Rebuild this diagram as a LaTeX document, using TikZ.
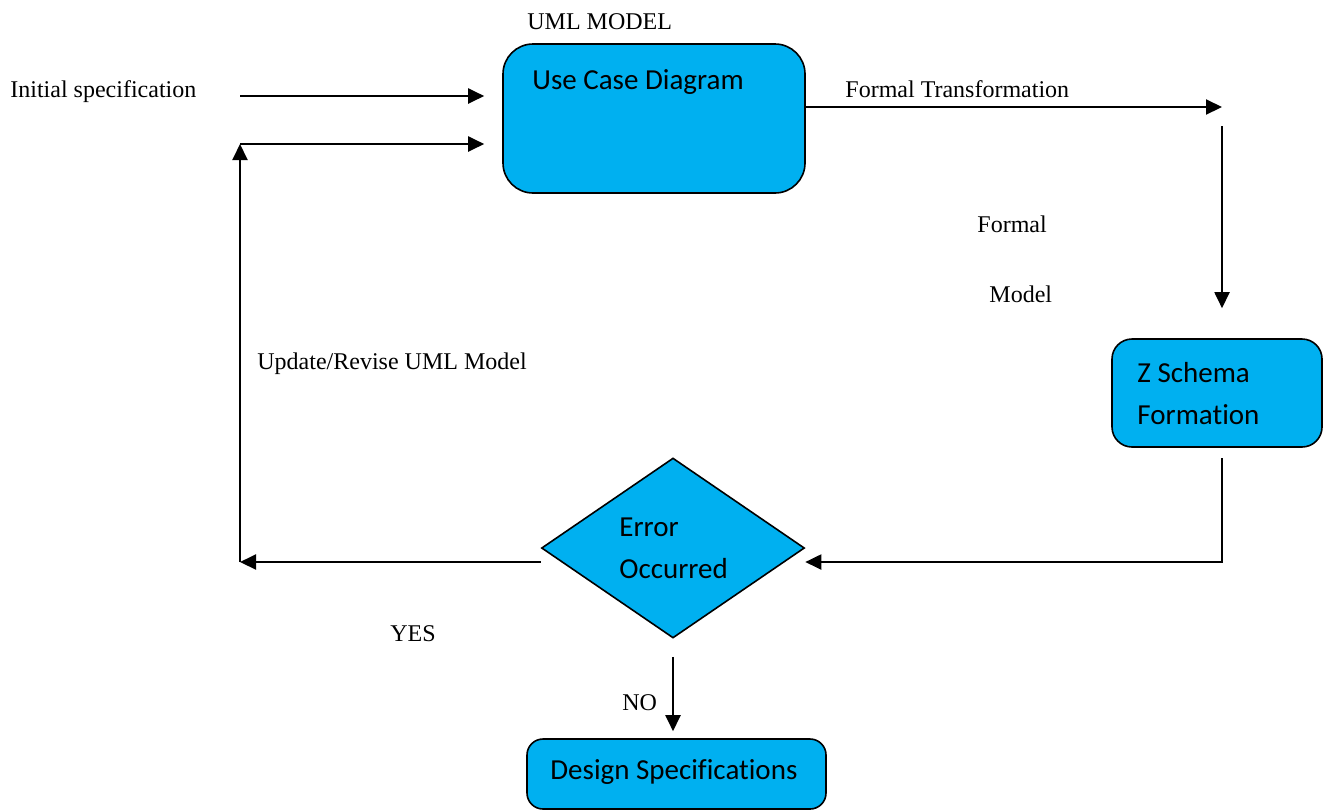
\documentclass[tikz,border=0pt]{standalone}
\usepackage{fontspec}
\setmainfont{Liberation Serif}
\newfontfamily\boxfont[RawFeature={-liga;-clig}]{Carlito}
\usetikzlibrary{arrows.meta,shapes.geometric}
\definecolor{boxblue}{HTML}{00B0F0}
\tikzset{
  arr/.style={line width=1pt,-{Triangle[length=8pt,width=7.5pt]}},
  bluebox/.style={draw=black,line width=0.8pt,fill=boxblue,inner sep=0pt},
  lbl/.style={font=\fontsize{12}{14}\selectfont,anchor=base west,inner sep=0pt},
  boxtxt/.style={font=\boxfont\fontsize{14.5}{17}\selectfont,anchor=base west,inner sep=0pt},
}
\begin{document}
\begin{tikzpicture}[x=0.5pt,y=-0.5pt]
\useasboundingbox (0,0) rectangle (1325,810);

% process boxes
\node[bluebox,rounded corners=15pt,minimum width=151pt,minimum height=74.5pt] (ucd) at (654,118.5) {};
\node[bluebox,rounded corners=10pt,minimum width=105pt,minimum height=54pt] (zs) at (1217,393) {};
\node[bluebox,rounded corners=8pt,minimum width=149.5pt,minimum height=35pt] (ds) at (676.5,774) {};
\node[bluebox,diamond,minimum width=131.5pt,minimum height=90pt] (dm) at (673,548) {};

% box texts
\node[boxtxt] (tucd) at (532,89) {Use Case Diagram};
\node[boxtxt] (tz1) at (1137,382) {Z Schema};
\node[boxtxt] (tz2) at (1137,424) {Formation};
\node[boxtxt] (te1) at (619,536) {Error};
\node[boxtxt] (te2) at (619,578) {Occurred};
\node[boxtxt] (tds) at (550,779) {Design Specifications};

% free labels
\node[lbl] (uml) at (527,29) {UML MODEL};
\node[lbl] (init) at (10,97) {Initial specification};
\node[lbl] (ftr) at (845,97) {Formal Transformation};
\node[lbl] (fm1) at (977,232) {Formal};
\node[lbl] (fm2) at (989,302) {Model};
\node[lbl] (upd) at (257,369) {Update/Revise UML Model};
\node[lbl] (yes) at (390,641) {YES};
\node[lbl] (no) at (622,710) {NO};

% connector end points
\coordinate (inA) at (240,96);
\coordinate (fb) at (240,144);
\coordinate (lc) at (240,562);
\coordinate (ft) at (1222,107);
\coordinate (ftd) at (1222,126);
\coordinate (zdown) at (1222,458);
\coordinate (zc) at (1222,562);

% connectors
\draw[arr,shorten >=9pt] (inA) -- (ucd.west |- inA);
\draw[arr,shorten >=9pt] (fb) -- (ucd.west |- fb);
\draw[arr] (lc) -- (fb);
\draw[arr] (dm.west |- lc) -- (lc);
\draw[arr] (ucd.east |- ft) -- (ft);
\draw[arr,shorten >=15pt] (ftd) -- (ftd |- zs.north);
\draw[arr] (zdown) -- (zc) -- (dm.east |- zc);
\draw[arr,shorten <=9pt,shorten >=3.5pt] (dm.south) -- (ds.north -| dm.south);
\end{tikzpicture}
\end{document}
